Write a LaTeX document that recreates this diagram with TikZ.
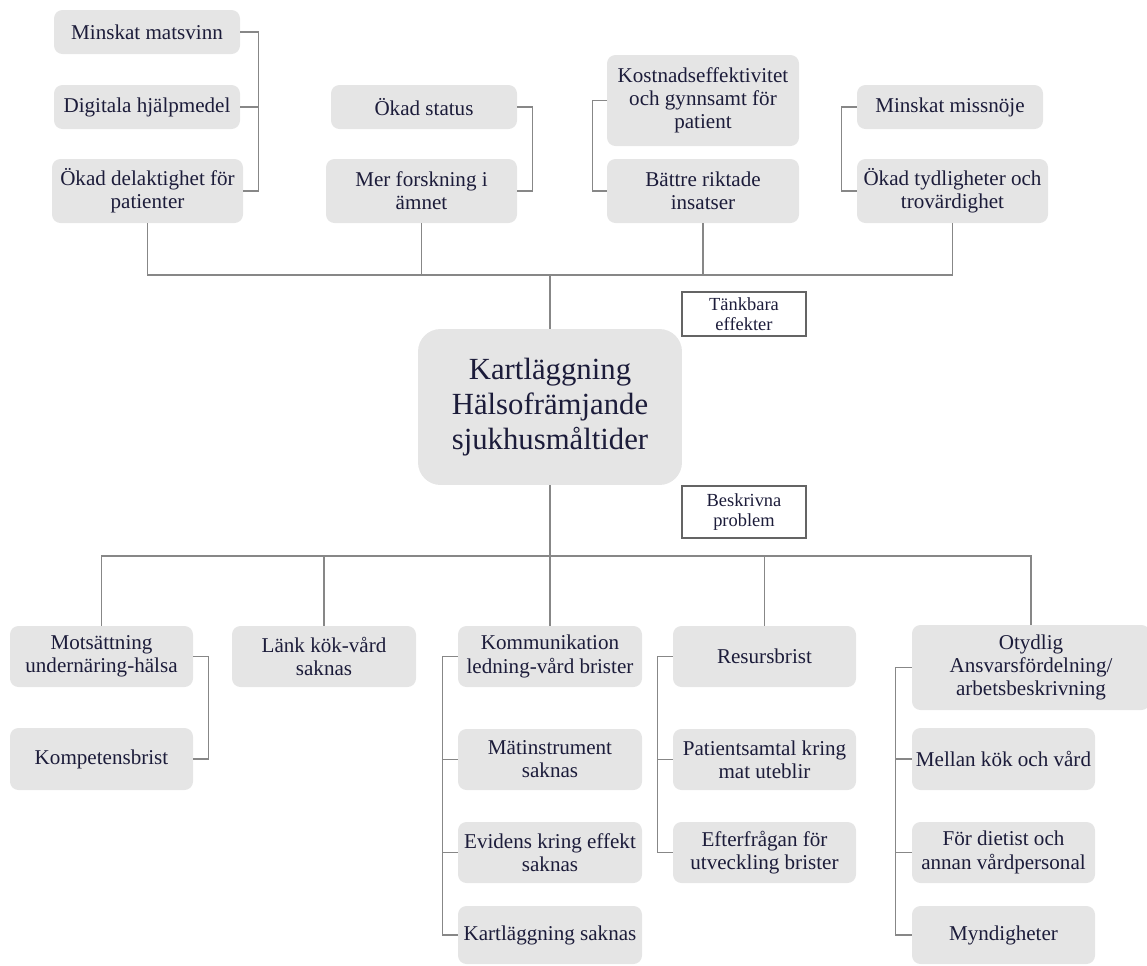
\documentclass[tikz,border=0pt]{standalone}
\usepackage{fontspec}
\setmainfont{LiberationSerif}[Extension=.ttf, UprightFont=*-Regular,
  BoldFont=*-Bold, ItalicFont=*-Italic, BoldItalicFont=*-BoldItalic]
\usepackage{xcolor}
\usetikzlibrary{positioning, calc}
\definecolor{tilegray}{RGB}{229,229,229}
\definecolor{inkblue}{RGB}{28,28,58}
\definecolor{linegray}{RGB}{135,135,135}
\definecolor{framegray}{RGB}{100,100,100}
\tikzset{
  tile/.style 2 args={rectangle, fill=tilegray, rounded corners=0.17cm,
    minimum width=#1*0.02cm, minimum height=#2*0.02cm, inner sep=1pt,
    text=inkblue, align=center, font=\fontsize{12}{13.2}\selectfont},
  hub/.style={rectangle, fill=tilegray, rounded corners=0.45cm,
    minimum width=5.28cm, minimum height=3.12cm, text=inkblue, align=center,
    font=\fontsize{17.5}{20}\selectfont},
  tag/.style={rectangle, draw=framegray, line width=0.6pt, fill=white,
    minimum width=2.48cm, inner sep=1pt, text=inkblue, align=center,
    font=\fontsize{10.5}{11.5}\selectfont},
  link/.style={draw=linegray, line width=0.6pt}
}
\begin{document}
\begin{tikzpicture}[x=0.02cm, y=-0.02cm]
  \useasboundingbox (0,0) rectangle (1147,965);
  % centre
  \node[hub] (hub) at (550,407) {Kartläggning\\Hälsofrämjande\\sjukhusmåltider};
  \node[tag, minimum height=0.88cm] (eff) at (744,314) {Tänkbara\\effekter};
  \node[tag, minimum height=1.04cm] (pro) at (744,512) {Beskrivna\\problem};
  % effects
  \node[tile={186}{44}] (matsvinn) at (147,32) {Minskat matsvinn};
  \node[tile={186}{44}] (digital) at (147,107) {Digitala hjälpmedel};
  \node[tile={191}{64}] (delakt) at (147.5,191) {Ökad delaktighet för\\patienter};
  \node[tile={186}{44}] (status) at (424,107) {Ökad status};
  \node[tile={191}{64}] (forsk) at (421.5,191) {Mer forskning i\\ämnet};
  \node[tile={192}{91}] (kostn) at (703,100.5) {Kostnadseffektivitet\\och gynnsamt för\\patient};
  \node[tile={192}{64}] (riktad) at (703,191) {Bättre riktade\\insatser};
  \node[tile={186}{44}] (missn) at (950,107) {Minskat missnöje};
  \node[tile={191}{64}] (tydlig) at (952.5,191) {Ökad tydligheter och\\trovärdighet};
  % problems
  \node[tile={183}{61}] (mots) at (101.5,656.5) {Motsättning\\undernäring-hälsa};
  \node[tile={183}{62}] (kompet) at (101.5,759) {Kompetensbrist};
  \node[tile={184}{61}] (lank) at (324,656.5) {Länk kök-vård\\saknas};
  \node[tile={184}{61}] (kommun) at (550,656.5) {Kommunikation\\ledning-vård brister};
  \node[tile={184}{61}] (matinst) at (550,759.5) {Mätinstrument\\saknas};
  \node[tile={184}{61}] (evid) at (550,852.5) {Evidens kring effekt\\saknas};
  \node[tile={184}{58}] (kartl) at (550,935) {Kartläggning saknas};
  \node[tile={183}{61}] (resurs) at (764.5,656.5) {Resursbrist};
  \node[tile={183}{61}] (samtal) at (764.5,759.5) {Patientsamtal kring\\mat uteblir};
  \node[tile={183}{61}] (efterfr) at (764.5,852.5) {Efterfrågan för\\utveckling brister};
  \node[tile={238}{85}] (otydl) at (1031,667.5) {Otydlig\\Ansvarsfördelning/\\arbetsbeskrivning};
  \node[tile={183}{62}] (mellan) at (1003.5,759) {Mellan kök och vård};
  \node[tile={183}{61}] (dietist) at (1003.5,852.5) {För dietist och\\annan vårdpersonal};
  \node[tile={183}{58}] (myndig) at (1003.5,935) {Myndigheter};
  % tree above
  \coordinate (upper) at (550,275);
  \draw[link] (hub.north) -- (upper);
  \draw[link] (delakt.south) |- (upper) -| (tydlig.south);
  \draw[link] (forsk.south) -- (forsk.south |- upper);
  \draw[link] (riktad.south) -- (riktad.south |- upper);
  \draw[link] (matsvinn.east) -- ++(18,0) |- (delakt.east);
  \draw[link] (digital.east) -- ++(18,0);
  \draw[link] (status.east) -- ++(15,0) |- (forsk.east);
  \draw[link] (kostn.west) -- ++(-14,0) |- (riktad.west);
  \draw[link] (missn.west) -- ++(-15,0) |- (tydlig.west);
  % tree below
  \coordinate (lower) at (550,556);
  \draw[link] (hub.south) -- (lower);
  \draw[link] (mots.north) |- (lower) -| (otydl.north);
  \draw[link] (lank.north) -- (lank.north |- lower);
  \draw[link] (kommun.north) -- (lower);
  \draw[link] (resurs.north) -- (resurs.north |- lower);
  \draw[link] (mots.east) -- ++(15,0) |- (kompet.east);
  \draw[link] (kommun.west) -- ++(-15,0) |- (kartl.west);
  \foreach \n in {matinst, evid}
    \draw[link] (\n.west) -- ++(-15,0);
  \draw[link] (resurs.west) -- ++(-15,0) |- (efterfr.west);
  \draw[link] (samtal.west) -- ++(-15,0);
  \draw[link] (otydl.west) -- ++(-16,0) |- (myndig.west);
  \foreach \n in {mellan, dietist}
    \draw[link] (\n.west) -- ++(-16,0);
\end{tikzpicture}
\end{document}
